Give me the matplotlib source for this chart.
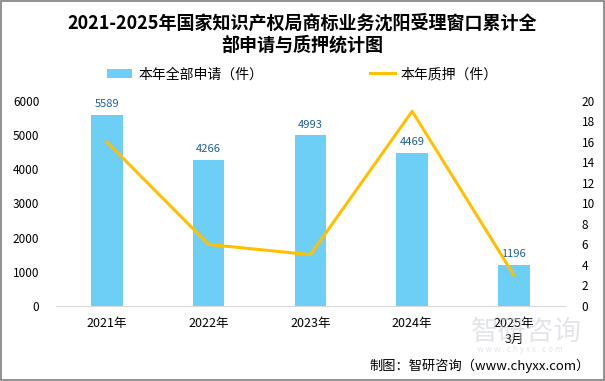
import matplotlib.pyplot as plt
from matplotlib.patches import Rectangle

plt.rcParams['font.family'] = ['Noto Sans CJK SC', 'DejaVu Sans']

years = ['2021年', '2022年', '2023年', '2024年', '2025年\n3月']
applications = [5589, 4266, 4993, 4469, 1196]
pledges = [16, 6, 5, 19, 3]

fig = plt.figure(figsize=(6.05, 3.81), dpi=100)
ax = fig.add_axes([0.0926, 0.197, 0.841, 0.538])
ax2 = ax.twinx()

x = list(range(len(years)))
ax.bar(x, applications, width=0.31, color='#6DCFF6', label='本年全部申请（件）', zorder=2)
ax2.plot(x, pledges, color='#FFC000', linewidth=2.2, label='本年质押（件）', zorder=3)

for xi, v in zip(x, applications):
    ax.text(xi, v + 170, str(v), ha='center', va='bottom', fontsize=8, color='#1F5F9A')

ax.set_xlim(-0.5, len(years) - 0.5)
ax.set_ylim(0, 6000)
ax.set_yticks(range(0, 6001, 1000))
ax2.set_ylim(0, 20)
ax2.set_yticks(range(0, 21, 2))
ax.set_xticks(x)
ax.set_xticklabels(years, fontsize=9, linespacing=1.3)

for a in (ax, ax2):
    for s in a.spines.values():
        s.set_visible(False)
    a.tick_params(length=0, labelsize=8.5)
ax.spines['bottom'].set_visible(True)
ax.spines['bottom'].set_color('#D9D9D9')
ax.tick_params(axis='y', pad=12)
ax2.tick_params(axis='y', pad=12)
ax.tick_params(axis='x', pad=8, labelsize=9)

fig.text(0.5, 0.965, '2021-2025年国家知识产权局商标业务沈阳受理窗口累计全\n部申请与质押统计图',
         ha='center', va='top', fontsize=13, fontweight='bold', linespacing=1.25)

h1, l1 = ax.get_legend_handles_labels()
h2, l2 = ax2.get_legend_handles_labels()
fig.legend(h1 + h2, l1 + l2, loc='center', bbox_to_anchor=(0.5, 0.805), ncol=2,
           frameon=False, fontsize=10, columnspacing=7.7, handlelength=1.8, handletextpad=0.4)

# watermark
fig.text(0.87, 0.13, '智研咨询', ha='center', va='center', fontsize=20, color='#C8CCD2', alpha=0.5)
fig.text(0.86, 0.082, 'w w w . c h y x x . c o m', ha='center', va='center', fontsize=6, color='#C8CCD2', alpha=0.5)

fig.text(0.975, 0.02, '制图：智研咨询（www.chyxx.com）', ha='right', va='bottom', fontsize=9.5)

fig.patches.append(Rectangle((0.001, 0.002), 0.997, 0.995, transform=fig.transFigure,
                             fill=False, edgecolor='#7F7F7F', linewidth=1.2))

fig.savefig('out.png', dpi=100)
